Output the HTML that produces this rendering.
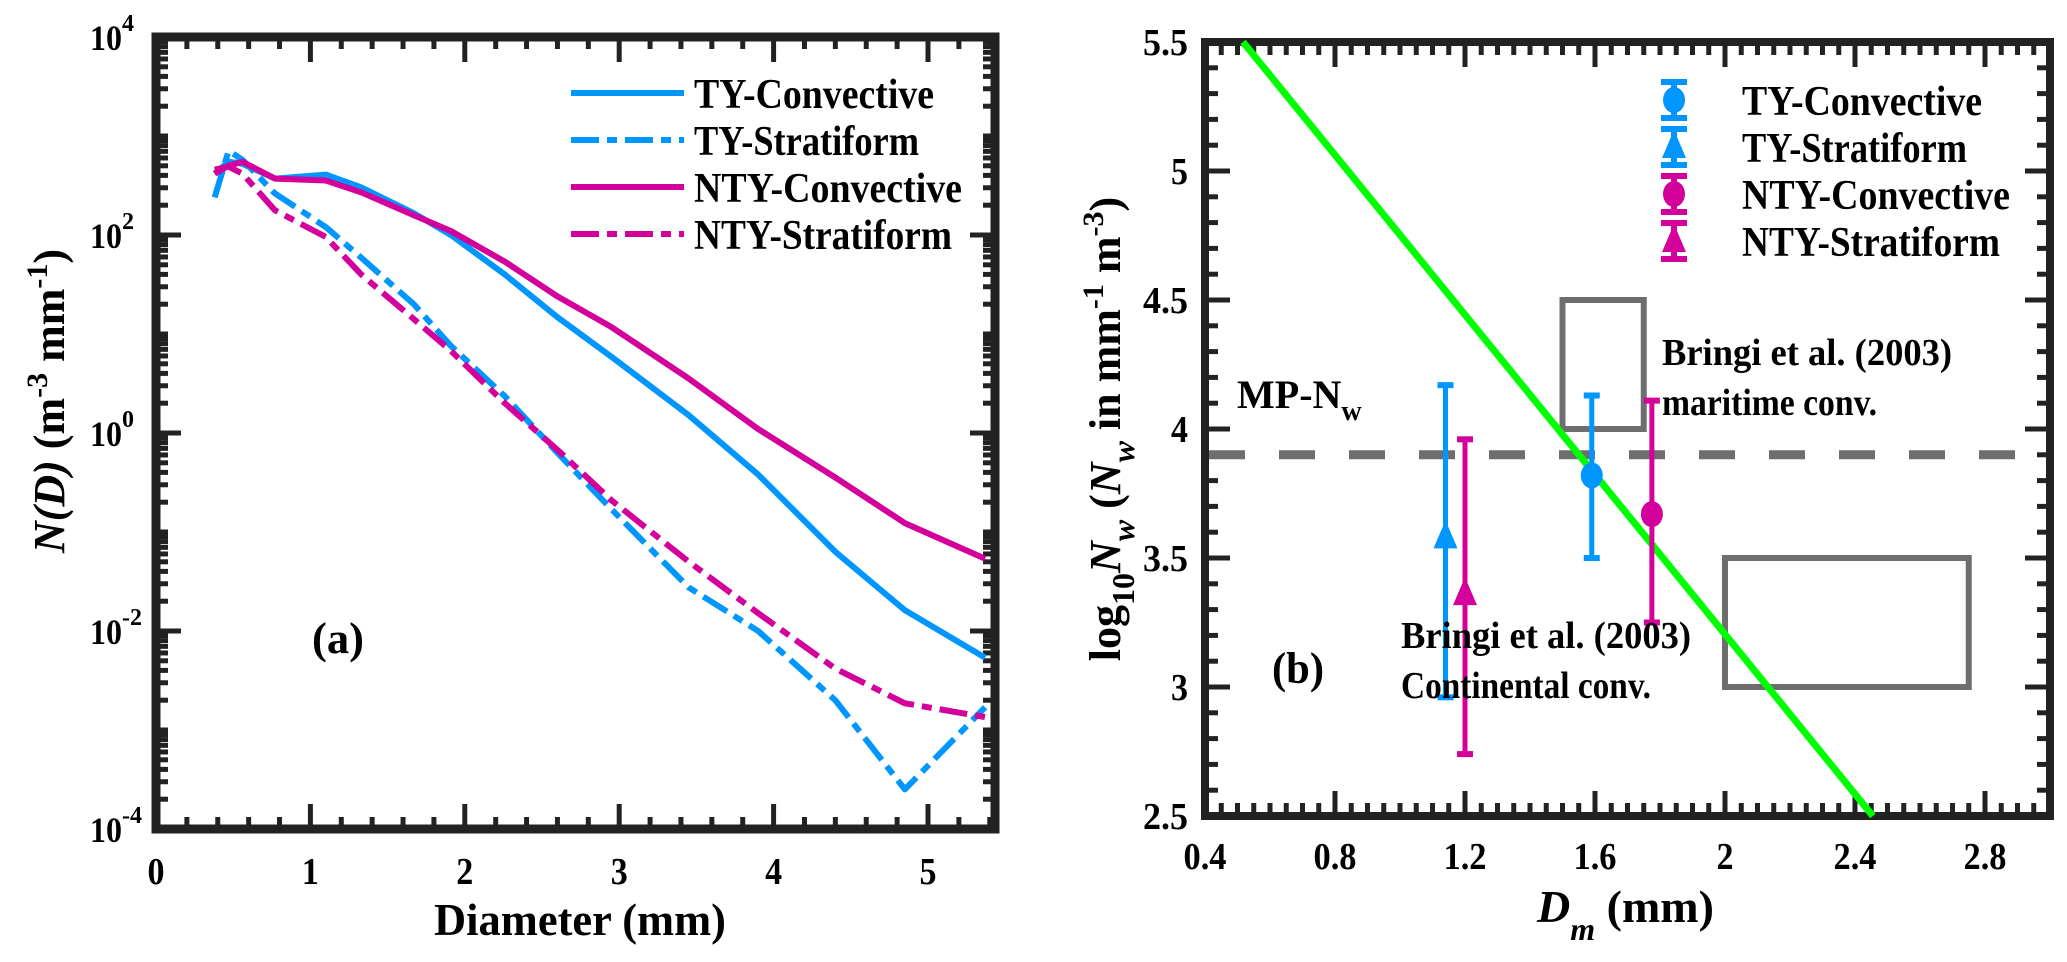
<!DOCTYPE html>
<html><head><meta charset="utf-8"><style>
body{margin:0;background:#fff}
svg{display:block;font-family:"Liberation Serif",serif;font-weight:bold}
</style></head><body>
<svg id="fig" width="2067" height="962" viewBox="0 0 2067 962" xmlns="http://www.w3.org/2000/svg">
<rect width="2067" height="962" fill="#fff"/>
<g id="left"></g>
<g id="right"></g>
</svg>
<script>
// ---- Panel (a) data ----
const diam = [0.38,0.47,0.56,0.77,1.1,1.33,1.67,1.91,2.26,2.6,2.95,3.45,3.9,4.4,4.85,5.37];
const tyConv = [2.62,2.74,2.72,2.57,2.61,2.48,2.22,2.0,1.6,1.17,0.77,0.18,-0.42,-1.2,-1.79,-2.27];
const tyStrat = [2.38,2.85,2.76,2.42,2.08,1.77,1.3,0.88,0.37,-0.2,-0.77,-1.56,-2.0,-2.7,-3.6,-2.77];
const ntyConv = [2.62,2.7,2.74,2.57,2.55,2.43,2.2,2.04,1.73,1.38,1.07,0.55,0.04,-0.45,-0.91,-1.27];
const ntyStrat = [2.66,2.69,2.62,2.25,1.98,1.6,1.15,0.83,0.3,-0.17,-0.68,-1.3,-1.82,-2.38,-2.73,-2.87];
const xTicksA = [0,1,2,3,4,5];
const yDecadesA = [4,2,0,-2,-4];
// ---- Panel (b) data ----
const dmVals = [1.59,1.14,1.775,1.2];
const nwVals = [3.82,3.58,3.67,3.36];
const nwLow = [3.5,2.96,3.25,2.74];
const nwHigh = [4.13,4.17,4.11,3.96];
const seriesNames = ["TY-Convective","TY-Stratiform","NTY-Convective","NTY-Stratiform"];
const fitDm = [0.517,2.455];
const fitNw = [5.5,2.5];
const mpNw = 3.9;
const xTicksB = [0.4,0.8,1.2,1.6,2,2.4,2.8];
const yTicksB = [2.5,3,3.5,4,4.5,5,5.5];

const NS="http://www.w3.org/2000/svg";
const BLUE="#0096ff", MAG="#d4009b", K="#222";
function mk(parent,tag,attrs,text){const e=document.createElementNS(NS,tag);for(const k in attrs)e.setAttribute(k,attrs[k]);if(text!==undefined)e.textContent=text;parent.appendChild(e);return e;}
const LA='spacingAndGlyphs';

// ===== Panel A =====
const L=document.getElementById('left');
const xA=d=>156+d*154.4, yA=l=>37+(4-l)*99;
const XA0=xA(0), XA1=995, YA0=yA(4), YA1=yA(-4);
const tkA=mk(L,'g',{stroke:K,'stroke-width':5});

for(let d=0;d<=5.41;d+=0.2){const dd=Math.round(d*10)/10;const maj=Math.abs(dd-Math.round(dd))<1e-6;const len=maj?25:12;
 mk(tkA,'line',{x1:xA(dd),x2:xA(dd),y1:YA1,y2:YA1-len});mk(tkA,'line',{x1:xA(dd),x2:xA(dd),y1:YA0,y2:YA0+len});}
for(let e=-4;e<4;e++){for(let k=1;k<10;k++){const l=e+Math.log10(k);const maj=(k===1&&e%2===0);const len=maj?25:12;if(k===1&&e===-4)continue;
 mk(tkA,'line',{x1:XA0,x2:XA0+len,y1:yA(l),y2:yA(l)});mk(tkA,'line',{x1:XA1,x2:XA1-len,y1:yA(l),y2:yA(l)});}}
const frA=mk(L,'rect',{x:XA0,y:YA0,width:XA1-XA0,height:YA1-YA0,fill:'none',stroke:K,'stroke-width':9});

xTicksA.forEach(v=>{const t=mk(L,'text',{x:xA(v),y:884,'font-size':38,'text-anchor':'middle',textLength:17,lengthAdjust:LA},String(v));
 });
yDecadesA.forEach(v=>{const t=mk(L,'text',{x:122,y:yA(v)+13,'font-size':36,'text-anchor':'end',textLength:32,lengthAdjust:LA},'10');
 
 mk(L,'text',{x:122,y:yA(v)-6,'font-size':24,'text-anchor':'start'},String(v));});
const xtA=mk(L,'text',{x:580,y:935,'font-size':46,'text-anchor':'middle',textLength:292,lengthAdjust:LA},'Diameter (mm)');

const ytA=mk(L,'text',{transform:'translate(64,401) rotate(-90)','font-size':44,'text-anchor':'middle'});

ytA.innerHTML='<tspan font-style="italic">N(D)</tspan> (m<tspan font-size="30" dy="-17">-3</tspan><tspan dy="17"> mm</tspan><tspan font-size="30" dy="-17">-1</tspan><tspan dy="17">)</tspan>';
const pa=mk(L,'text',{x:312,y:653,'font-size':44,textLength:52,lengthAdjust:LA},'(a)');

const seriesA=[[tyConv,BLUE,null,'line-ty-convective'],[tyStrat,BLUE,'28 8 10 8','line-ty-stratiform'],[ntyConv,MAG,null,'line-nty-convective'],[ntyStrat,MAG,'28 8 10 8','line-nty-stratiform']];
seriesA.forEach(([vals,col,dash,nm])=>{
 const p=mk(L,'polyline',{points:diam.map((d,i)=>xA(d)+','+yA(vals[i])).join(' '),fill:'none',stroke:col,'stroke-width':6,'stroke-linejoin':'round'});
 if(dash)p.setAttribute('stroke-dasharray',dash);
 
});
const legW=[240,225,268,258];
seriesA.forEach(([vals,col,dash,nm],i)=>{const y=93+i*47;
 const s=mk(L,'line',{x1:571,x2:684,y1:y,y2:y,stroke:col,'stroke-width':6});if(dash)s.setAttribute('stroke-dasharray',dash);
 
 const t=mk(L,'text',{x:694,y:y+15,'font-size':42,textLength:legW[i],lengthAdjust:LA},seriesNames[i]);
 
});

// ===== Panel B =====
const R=document.getElementById('right');
const xB=v=>1205+(v-0.4)*325, yB=v=>42+(5.5-v)*258;
const XB0=xB(0.4), XB1=2050, YB0=yB(5.5), YB1=yB(2.5);
const tkB=mk(R,'g',{stroke:K,'stroke-width':5});

for(let i=0;i<=52;i++){const v=0.4+i*0.05;if(v>3.0)break;const maj=i%8===0;const len=maj?25:13;
 mk(tkB,'line',{x1:xB(v),x2:xB(v),y1:YB1,y2:YB1-len});mk(tkB,'line',{x1:xB(v),x2:xB(v),y1:YB0,y2:YB0+len});}
for(let i=1;i<30;i++){const v=2.5+i*0.1;const maj=i%5===0;const len=maj?25:13;
 mk(tkB,'line',{x1:XB0,x2:XB0+len,y1:yB(v),y2:yB(v)});mk(tkB,'line',{x1:XB1,x2:XB1-len,y1:yB(v),y2:yB(v)});}
const frB=mk(R,'rect',{x:XB0,y:YB0,width:XB1-XB0,height:YB1-YB0,fill:'none',stroke:K,'stroke-width':8});

xTicksB.forEach(v=>{const s=String(v);const t=mk(R,'text',{x:xB(v),y:869,'font-size':38,'text-anchor':'middle',textLength:s.length>1?43:17,lengthAdjust:LA},s);
 });
yTicksB.forEach(v=>{const s=String(v);const t=mk(R,'text',{x:1188,y:yB(v)+13,'font-size':38,'text-anchor':'end',textLength:s.length>1?45:17,lengthAdjust:LA},s);
 });
const xtB=mk(R,'text',{x:1537,y:922,'font-size':46});

xtB.innerHTML='<tspan font-style="italic">D</tspan><tspan font-style="italic" font-size="32" dy="18">m</tspan><tspan dy="-18"> (mm)</tspan>';
const ytB=mk(R,'text',{transform:'translate(1120,429) rotate(-90)','font-size':44,'text-anchor':'middle'});

ytB.innerHTML='log<tspan font-size="32" dy="14">10</tspan><tspan dy="-14" font-style="italic">N</tspan><tspan font-style="italic" font-size="32" dy="14">w</tspan><tspan dy="-14"> (</tspan><tspan font-style="italic">N</tspan><tspan font-style="italic" font-size="32" dy="14">w</tspan><tspan dy="-14"> in mm</tspan><tspan font-size="30" dy="-17">-1</tspan><tspan dy="17"> m</tspan><tspan font-size="30" dy="-17">-3</tspan><tspan dy="17">)</tspan>';
const mp=mk(R,'line',{x1:XB0+4,x2:XB1-4,y1:yB(mpNw),y2:yB(mpNw),stroke:'#6e6e6e','stroke-width':9,'stroke-dasharray':'36 34'});

const b1=mk(R,'rect',{x:xB(1.5),y:yB(4.5),width:xB(1.75)-xB(1.5),height:yB(4.0)-yB(4.5),fill:'none',stroke:'#6e6e6e','stroke-width':6});

const b2=mk(R,'rect',{x:xB(2.0),y:yB(3.5),width:xB(2.75)-xB(2.0),height:yB(3.0)-yB(3.5),fill:'none',stroke:'#6e6e6e','stroke-width':6});

const fit=mk(R,'line',{x1:xB(fitDm[0]),y1:yB(fitNw[0]),x2:xB(fitDm[1]),y2:yB(fitNw[1]),stroke:'#00ff00','stroke-width':7});

function marker(g,cx,cy,col,tri){
 if(tri)return mk(g,'polygon',{points:`${cx},${cy-17} ${cx-12},${cy+11} ${cx+12},${cy+11}`,fill:col});
 return mk(g,'ellipse',{cx:cx,cy:cy,rx:11,ry:13,fill:col});
}
const cols=[BLUE,BLUE,MAG,MAG], tris=[false,true,false,true];
dmVals.forEach((d,i)=>{const g=mk(R,'g',{});
 
 const x=xB(d);
 mk(g,'line',{x1:x,x2:x,y1:yB(nwHigh[i]),y2:yB(nwLow[i]),stroke:cols[i],'stroke-width':5});
 mk(g,'line',{x1:x-8,x2:x+8,y1:yB(nwHigh[i]),y2:yB(nwHigh[i]),stroke:cols[i],'stroke-width':6});
 mk(g,'line',{x1:x-8,x2:x+8,y1:yB(nwLow[i]),y2:yB(nwLow[i]),stroke:cols[i],'stroke-width':6});
 const m=marker(g,x,yB(nwVals[i]),cols[i],tris[i]);
 
});
const t1=mk(R,'text',{x:1237,y:408,'font-size':40});

t1.innerHTML='MP-N<tspan font-size="28" dy="12">w</tspan>';
[[1662,365,'Bringi et al. (2003)',290,'maritime-label-1'],[1662,415,'maritime conv.',215,'maritime-label-2'],[1401,648,'Bringi et al. (2003)',290,'continental-label-1'],[1401,698,'Continental conv.',250,'continental-label-2']].forEach(([x,y,s,w,n])=>{
 const t=mk(R,'text',{x:x,y:y,'font-size':38,textLength:w,lengthAdjust:LA},s);});
const pb=mk(R,'text',{x:1272,y:683,'font-size':44,textLength:52,lengthAdjust:LA},'(b)');

seriesNames.forEach((nm,i)=>{const y=100+i*47,x=1674;const g=mk(R,'g',{});
 
 mk(g,'line',{x1:x,x2:x,y1:y-18,y2:y+18,stroke:cols[i],'stroke-width':6});
 mk(g,'line',{x1:x-13,x2:x+13,y1:y-18,y2:y-18,stroke:cols[i],'stroke-width':6});
 mk(g,'line',{x1:x-13,x2:x+13,y1:y+18,y2:y+18,stroke:cols[i],'stroke-width':6});
 marker(g,x,y,cols[i],tris[i]);
 mk(g,'text',{x:1742,y:y+15,'font-size':42,textLength:legW[i],lengthAdjust:LA},nm);
});
</script>
</body></html>
